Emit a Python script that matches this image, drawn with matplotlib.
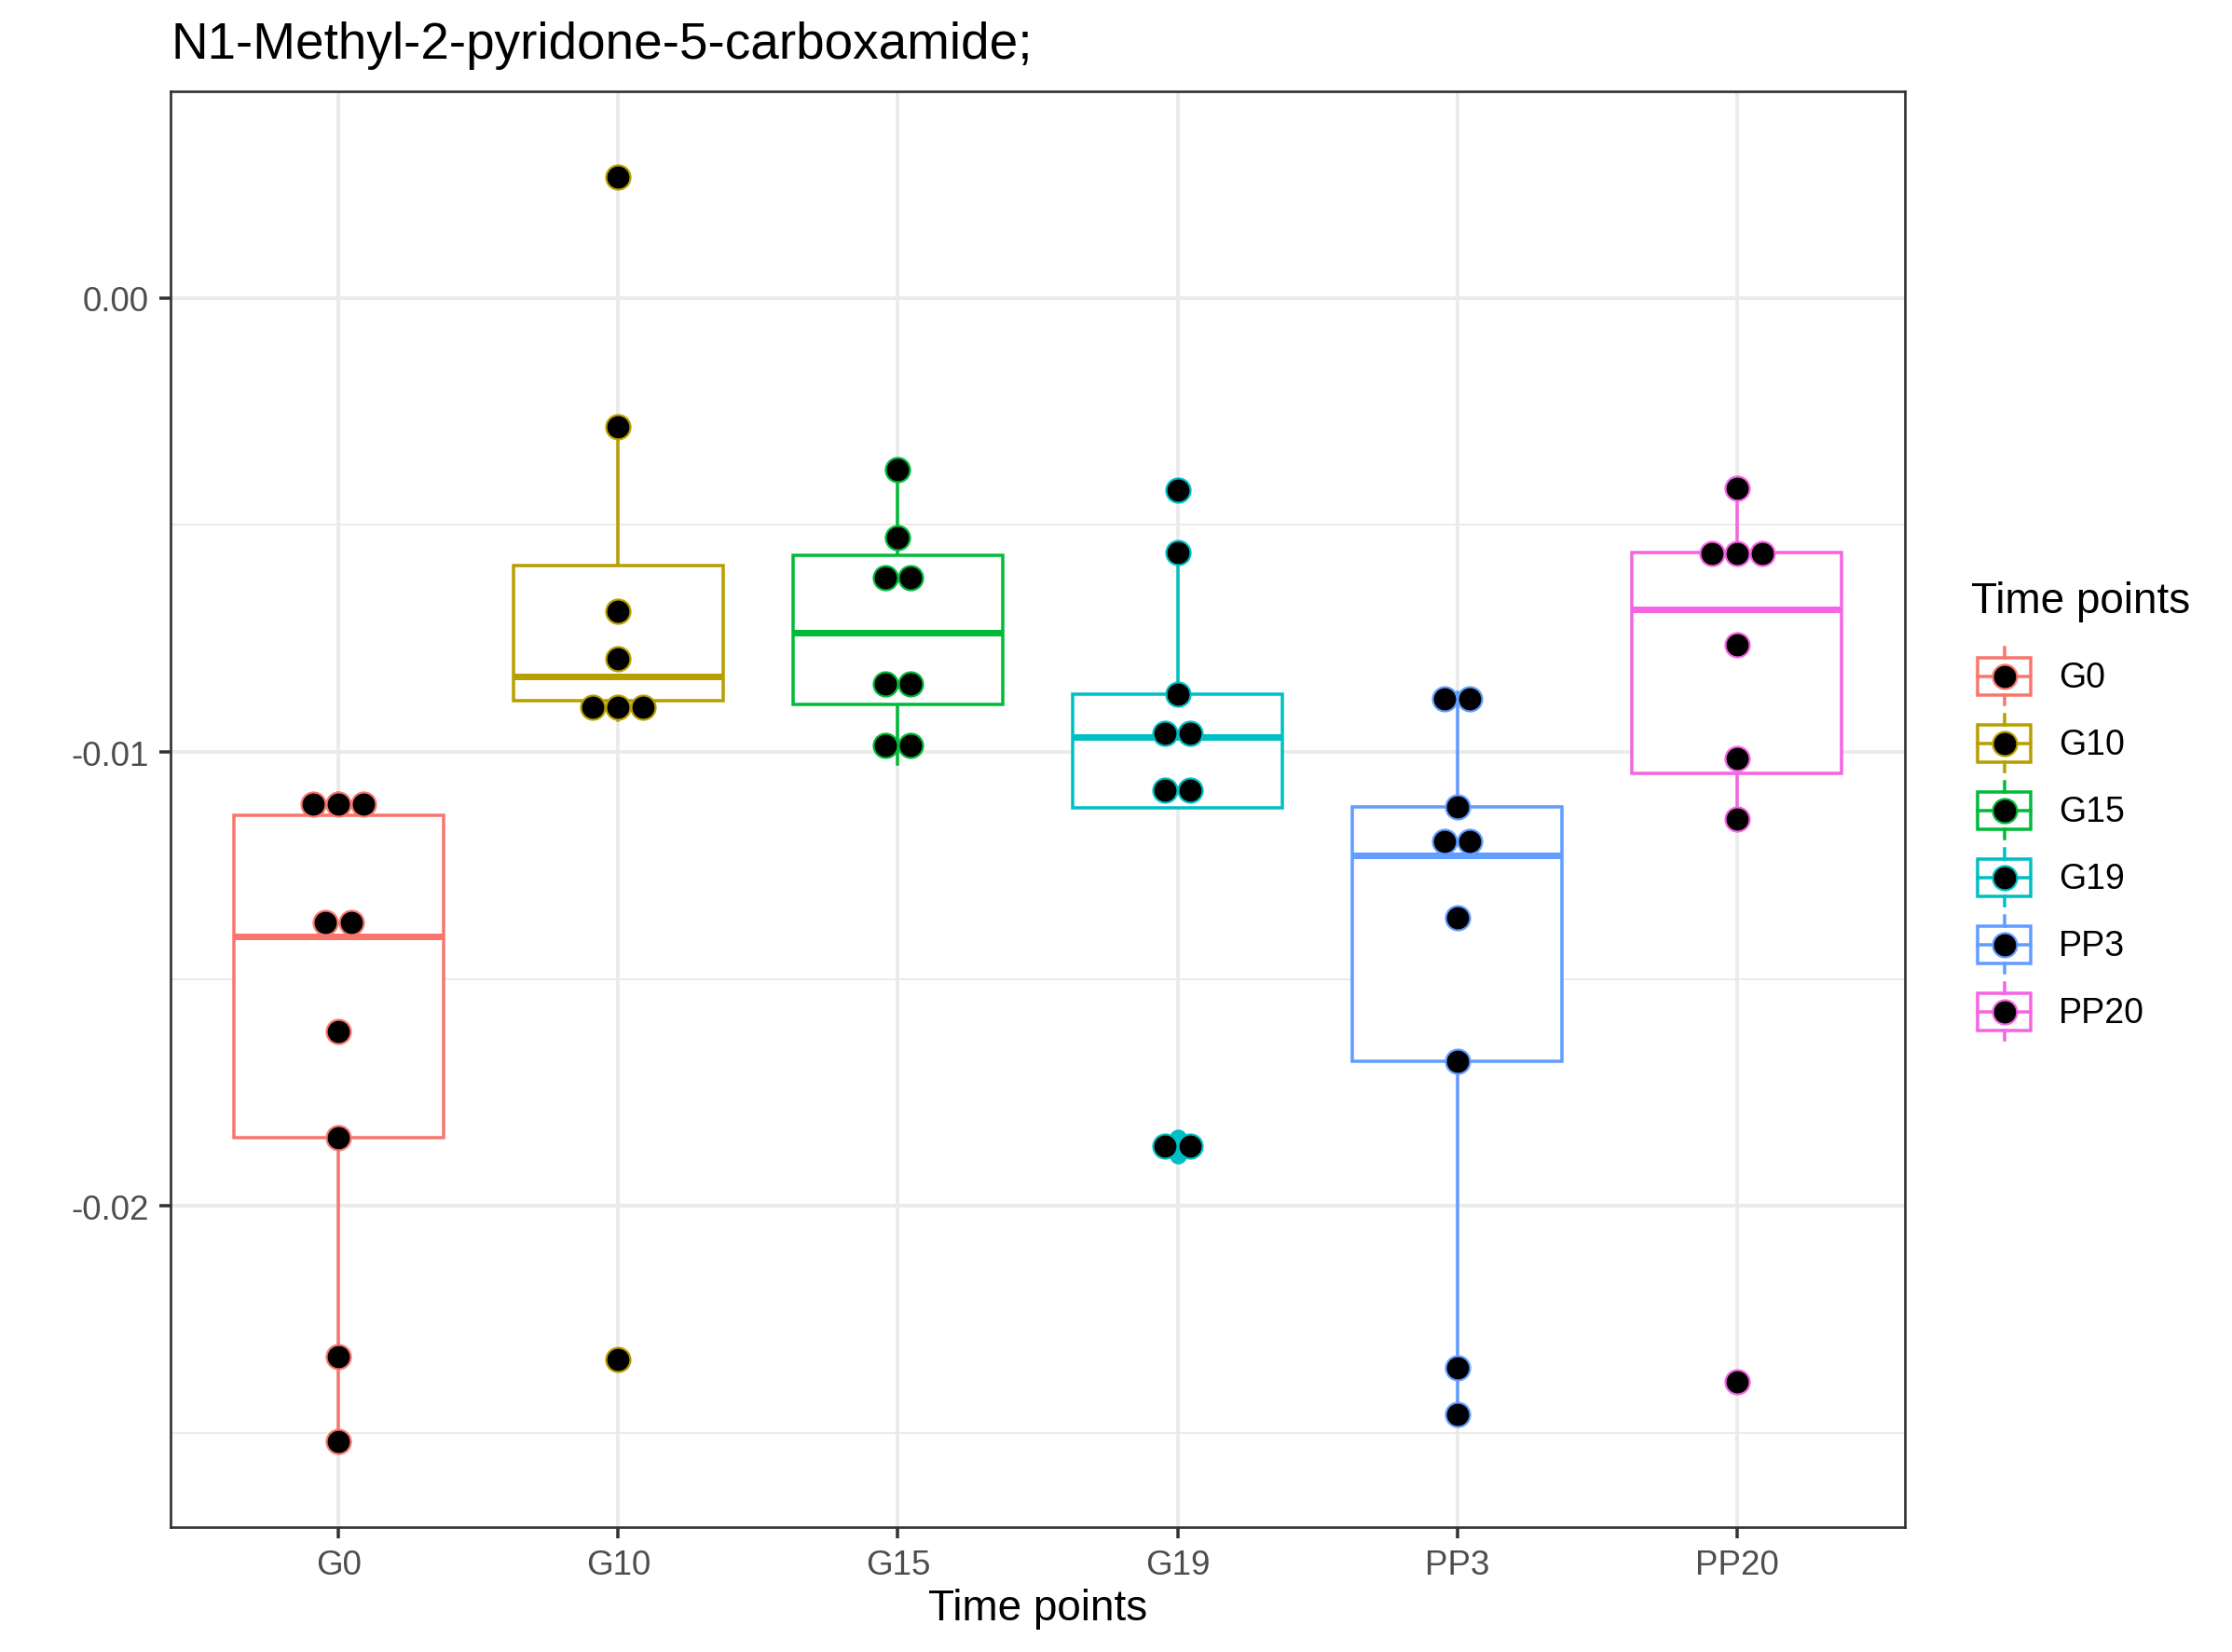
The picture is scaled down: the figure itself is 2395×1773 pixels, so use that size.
import numpy as np
import matplotlib
matplotlib.use("Agg")
import matplotlib.pyplot as plt
from matplotlib.patches import Patch, Rectangle
from matplotlib.lines import Line2D
from matplotlib.legend_handler import HandlerBase

# ---------------- data ----------------
categories = ["G0", "G10", "G15", "G19", "PP3", "PP20"]
g0 = [-0.02519, -0.02332, -0.01849, -0.01616, -0.01407, -0.01345, -0.01139, -0.01114, -0.01090]
g10 = [-0.02338, -0.00930, -0.00873, -0.00872, -0.00794, -0.00690, -0.00285, 0.00266]
g15 = [-0.01027, -0.00945, -0.00878, -0.00823, -0.00652, -0.00580, -0.00529, -0.00379]
g19 = [-0.01888, -0.01849, -0.011227, -0.010451, -0.009676, -0.009492, -0.00873, -0.00560, -0.004245]
pp3 = [-0.024595, -0.023551, -0.016812, -0.013643, -0.012287, -0.011663, -0.011208, -0.00900, -0.00868]
pp20 = [-0.023877, -0.011473, -0.010140, -0.007639, -0.006075, -0.005743, -0.005195, -0.004193]
groups = [g0, g10, g15, g19, pp3, pp20]

colors = ["#F8766D", "#B79F00", "#00BA38", "#00BFC4", "#619CFF", "#F564E3"]
ytick_values = [0.00, -0.01, -0.02]
ytick_labels = ["0.00", "-0.01", "-0.02"]
yminor_values = [-0.005, -0.015, -0.025]
title_text = "N1-Methyl-2-pyridone-5-carboxamide;"
axis_title = "Time points"
legend_title = "Time points"

# ---------------- style ----------------
W, H, DPI = 2395, 1774, 100
PX = 72.0 / DPI  # points per pixel
plt.rcParams["font.family"] = ["Liberation Sans", "DejaVu Sans"]
plt.rcParams["axes.unicode_minus"] = False

fig = plt.figure(figsize=(W / DPI, H / DPI), dpi=DPI)
fig.patch.set_facecolor("white")
L, R, T, B = 183, 2044, 99, 1640
ax = fig.add_axes([L / W, 1 - B / H, (R - L) / W, (B - T) / H])

box_lw = 3.5 * PX
positions = np.arange(len(categories))
bp = ax.boxplot(groups, positions=positions, widths=0.75, patch_artist=True,
                showcaps=False, whis=1.5, manage_ticks=False)
for i, c in enumerate(colors):
    b = bp["boxes"][i]
    b.set_facecolor("white")
    b.set_edgecolor(c)
    b.set_linewidth(box_lw)
    b.set_joinstyle("miter")
    b.set_zorder(2)
    for w in bp["whiskers"][2 * i:2 * i + 2]:
        w.set_color(c)
        w.set_linewidth(box_lw)
        w.set_zorder(1.9)
    m = bp["medians"][i]
    m.set_color(c)
    m.set_linewidth(2 * box_lw)
    m.set_solid_capstyle("butt")
    m.set_zorder(2.1)
    f = bp["fliers"][i]
    f.set_marker("o")
    f.set_markerfacecolor(c)
    f.set_markeredgecolor(c)
    f.set_markersize(17 * PX)
    f.set_zorder(2.2)

# dot-density binning (like ggplot geom_dotplot, binaxis='y', stackdir='center')
allv = np.concatenate([np.asarray(g) for g in groups])
binwidth = (allv.max() - allv.min()) / 30.0
dot_step = 27.2 / ((R - L) / 6.2)  # horizontal step between stacked dots (data units)
dot_d = 26 * PX
for i, (g, c) in enumerate(zip(groups, colors)):
    vals = np.sort(np.asarray(g))
    bins = []
    binend = -np.inf
    for v in vals:
        if v >= binend:
            bins.append([v])
            binend = v + binwidth
        else:
            bins[-1].append(v)
    xs, ys = [], []
    for bvals in bins:
        k = len(bvals)
        center = (min(bvals) + max(bvals)) / 2.0
        for j in range(k):
            xs.append(positions[i] + (j - (k - 1) / 2.0) * dot_step)
            ys.append(center)
    ax.scatter(xs, ys, s=dot_d ** 2, facecolor="black", edgecolor=c,
               linewidth=2.2 * PX, zorder=3)

ax.set_xlim(-0.6, len(categories) - 0.4)
ax.set_ylim(-0.027067, 0.004544)
ax.set_xticks(positions)
ax.set_xticklabels(categories)
ax.set_yticks(ytick_values)
ax.set_yticklabels(ytick_labels)
ax.set_yticks(yminor_values, minor=True)
ax.set_axisbelow(True)
ax.grid(which="major", color="#EBEBEB", linewidth=4 * PX)
ax.grid(which="minor", axis="y", color="#EBEBEB", linewidth=2 * PX)
ax.tick_params(which="major", length=12 * PX, width=3.5 * PX, color="#333333",
               labelsize=26.5, labelcolor="#4D4D4D", pad=11 * PX)
ax.tick_params(which="minor", length=0)
for s in ax.spines.values():
    s.set_color("#333333")
    s.set_linewidth(2.7 * PX)
    s.set_zorder(4)

fig.text(L / W, 1 - 63 / H, title_text, fontsize=39.5, ha="left", va="baseline", color="black")
fig.text((L + R) / 2 / W, 1 - 1739 / H, axis_title, fontsize=33, ha="center", va="baseline",
         color="black")

LEG_FS = 27.0
KEY_OFF = 7 * PX     # key starts 7 px right of legend title
KEY_W = 57 * PX


class BoxDotHandler(HandlerBase):
    def create_artists(self, legend, orig_handle, xdescent, ydescent, width, height,
                       fontsize, trans):
        c = orig_handle.get_facecolor()
        x0, y0 = -xdescent + KEY_OFF, -ydescent
        w = KEY_W
        xc, yc = x0 + w / 2.0, y0 + height / 2.0
        lw = box_lw
        rect = Rectangle((x0, y0 + 0.17 * height), w, 0.65 * height,
                         facecolor="white", edgecolor=c, linewidth=lw, transform=trans)
        rect.set_joinstyle("miter")
        med = Line2D([x0, x0 + w], [yc, yc], color=c, linewidth=lw, transform=trans)
        w1 = Line2D([xc, xc], [y0, y0 + 0.17 * height], color=c, linewidth=lw, transform=trans)
        w2 = Line2D([xc, xc], [y0 + 0.82 * height, y0 + height], color=c, linewidth=lw,
                    transform=trans)
        dot = Line2D([xc], [yc], marker="o", markersize=dot_d, markerfacecolor="black",
                     markeredgecolor=c, markeredgewidth=2.2 * PX, linestyle="none",
                     transform=trans)
        return [rect, w1, w2, med, dot]


key_h_pt = 61 * PX
hh = (key_h_pt / LEG_FS - 0.245) / 0.65
handles = [Patch(facecolor=c) for c in colors]
leg = fig.legend(handles, categories, title=legend_title,
                 handler_map={Patch: BoxDotHandler()},
                 loc="upper left", bbox_to_anchor=(2115 / W, 1 - 624 / H),
                 frameon=False, fontsize=LEG_FS, title_fontsize=33,
                 handlelength=(KEY_OFF + KEY_W) / LEG_FS, handleheight=hh,
                 labelspacing=(72 - 61) * PX / LEG_FS,
                 handletextpad=30 * PX / LEG_FS, borderpad=0, borderaxespad=0,
                 alignment="left")
# extra gap between legend title and keys
try:
    leg._legend_box.sep = leg._legend_box.sep + 17 * PX
except Exception:
    pass

fig.savefig("out.png", dpi=DPI, facecolor="white")
